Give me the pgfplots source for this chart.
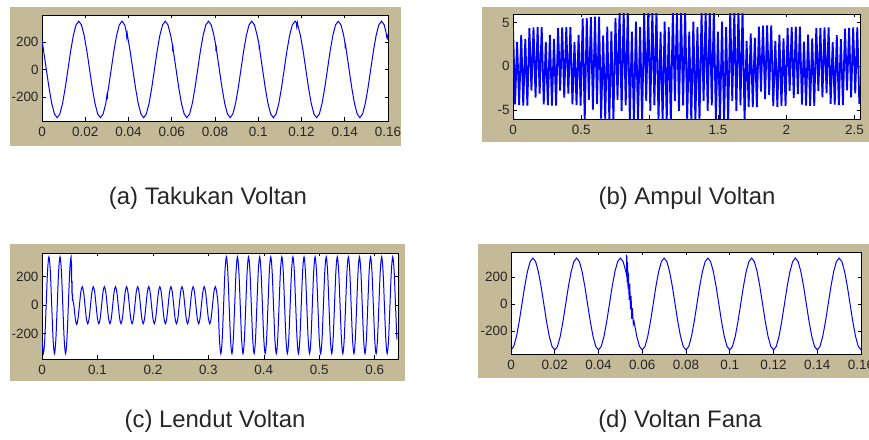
\documentclass[border=0pt]{standalone}
\usepackage{fontspec}
\setmainfont{Liberation Sans}
\usepackage{pgfplots}
\pgfplotsset{compat=1.18}
\definecolor{mtan}{RGB}{197,186,152}
\definecolor{mblue}{RGB}{0,0,255}
\pgfplotsset{mat/.style={
  scale only axis,
  no markers,
  axis background/.style={fill=white},
  tick align=inside,
  major tick length=3.5bp,
  tick style={black,line width=0.6bp},
  axis line style={black,line width=0.7bp},
  ticklabel style={font=\fontsize{13.5}{14}\selectfont, text=black!85},
  xticklabel style={yshift=-2.5bp},
  xtick pos=both, ytick pos=both,
}}
\begin{document}
\begin{tikzpicture}[x=1bp,y=1bp]
\path[use as bounding box] (0,0) rectangle (869,440);
\fill[mtan] (10,294) rectangle (401,433);
\fill[mtan] (482,298) rectangle (869,433);
\fill[mtan] (10,59) rectangle (405,196);
\fill[mtan] (478,62) rectangle (869,196);

% (a)
\begin{axis}[mat, at={(42bp,319bp)}, anchor=south west, width=346bp, height=106bp,
  xmin=0, xmax=0.16, ymin=-374, ymax=395,
  xtick={0,0.02,0.04,0.06,0.08,0.1,0.12,0.14,0.16},
  xticklabels={0,0.02,0.04,0.06,0.08,0.1,0.12,0.14,0.16},
  ytick={-200,0,200}, yticklabels={-200,0,200}]
\addplot[mblue, line width=1bp] coordinates {
(0,215) (0.00075,134) (0.002,0) (0.00325,-134) (0.0045,-247) (0.00575,-323)
(0.007,-350) (0.00825,-323) (0.0095,-247) (0.01075,-134) (0.012,0) (0.01325,134) (0.0145,247) (0.01575,323) (0.017,350) (0.01825,323) (0.0195,247) (0.02075,134) (0.022,0) (0.02325,-134) (0.0245,-247) (0.02575,-323)
(0.027,-350) (0.02825,-323) (0.0295,-247) (0.0300,-190) (0.0302,-215) (0.0304,-165) (0.03075,-134) (0.032,0) (0.03325,134) (0.0345,247) (0.03575,323) (0.037,350) (0.03825,323) (0.0390,270) (0.0392,235) (0.0394,260) (0.0395,247) (0.04075,134) (0.042,0) (0.04325,-134) (0.0445,-247) (0.04575,-323)
(0.047,-350) (0.04825,-323) (0.0495,-247) (0.05075,-134) (0.052,0) (0.05325,134) (0.0545,247) (0.05575,323) (0.057,350) (0.05825,323) (0.0595,247) (0.0603,180) (0.0604,150) (0.0606,160) (0.06075,134) (0.062,0) (0.06325,-134) (0.0645,-247) (0.06575,-323)
(0.067,-350) (0.06825,-323) (0.0695,-247) (0.07075,-134) (0.072,0) (0.07325,134) (0.0745,247) (0.07575,323) (0.077,350) (0.07825,323) (0.0795,247) (0.0803,180) (0.0804,150) (0.0806,160) (0.08075,134) (0.082,0) (0.08325,-134) (0.0845,-247) (0.08575,-323)
(0.087,-350) (0.08825,-323) (0.0895,-247) (0.09075,-134) (0.092,0) (0.09325,134) (0.0945,247) (0.09575,323) (0.097,350) (0.09825,323) (0.0995,247) (0.1003,185) (0.1004,160) (0.1006,165) (0.10075,134) (0.102,0) (0.10325,-134) (0.1045,-247) (0.10575,-323)
(0.107,-350) (0.10825,-323) (0.1095,-247) (0.11075,-134) (0.112,0) (0.11325,134) (0.1145,247) (0.11575,323) (0.117,350) (0.1176,340) (0.1178,310) (0.1181,338) (0.11825,323) (0.1195,247) (0.12075,134) (0.122,0) (0.12325,-134) (0.1245,-247) (0.12575,-323)
(0.127,-350) (0.12825,-323) (0.1295,-247) (0.13075,-134) (0.132,0) (0.13325,134) (0.1345,247) (0.13575,323) (0.137,350) (0.13825,323) (0.1395,247) (0.1401,190) (0.1402,165) (0.1404,175) (0.14075,134) (0.142,0) (0.14325,-134) (0.1445,-247) (0.14575,-323)
(0.147,-350) (0.14825,-323) (0.1495,-247) (0.15075,-134) (0.152,0) (0.15325,134) (0.1545,247) (0.15575,323) (0.157,350) (0.15825,323) (0.1592,260) (0.1594,235) (0.1597,245) (0.16,215)
};
\end{axis}

% (b)
\begin{axis}[mat, at={(513bp,321bp)}, anchor=south west, width=347bp, height=105bp,
  xmin=0, xmax=2.54, ymin=-6.05, ymax=6,
  xtick={0,0.5,1,1.5,2,2.5}, xticklabels={0,0.5,1,1.5,2,2.5},
  ytick={-5,0,5}, yticklabels={-5,0,5}]
\addplot[mblue, line width=1.8bp, line join=bevel] coordinates {
(0,4.50) (0.015,-4.37) (0.03,2.79) (0.045,-4.46) (0.06,3.60) (0.075,-4.50) (0.09,3.15) (0.105,-4.50) (0.12,4.37) (0.135,-2.79) (0.15,4.46) (0.165,-3.60) (0.18,4.50) (0.195,-3.15)
(0.21,4.50) (0.225,-4.37) (0.24,2.79) (0.255,-4.46) (0.27,3.60) (0.285,-4.50) (0.30,3.15) (0.315,-4.50) (0.33,4.37) (0.345,-2.79) (0.36,4.46) (0.375,-3.60) (0.39,4.50) (0.405,-3.15)
(0.42,4.50) (0.435,-4.37) (0.45,2.79) (0.465,-4.46) (0.48,3.60) (0.495,-4.50)
(0.51,5.50) (0.525,-6.20) (0.54,5.53) (0.555,-3.84) (0.57,5.64) (0.585,-4.96) (0.60,5.70) (0.615,-4.34)
(0.63,5.70) (0.645,-6.01) (0.66,3.53) (0.675,-6.14) (0.69,4.56) (0.705,-6.20) (0.72,3.99) (0.735,-6.20) (0.75,5.53) (0.765,-3.84)
(0.78,6.34) (0.795,-5.12) (0.81,6.40) (0.825,-4.48)
(0.84,6.40) (0.855,-6.21) (0.87,3.97) (0.885,-6.34) (0.90,5.12) (0.915,-6.40) (0.93,4.48) (0.945,-6.40) (0.96,6.21) (0.975,-3.97) (0.99,6.34) (1.005,-5.12) (1.02,6.40) (1.035,-4.48)
(1.05,6.40) (1.065,-6.21) (1.08,3.97) (1.095,-6.34) (1.11,5.12) (1.125,-6.40) (1.14,4.48) (1.155,-6.40) (1.17,6.21) (1.185,-3.97) (1.20,6.34) (1.215,-5.12) (1.23,6.40) (1.245,-4.48)
(1.26,6.40) (1.275,-6.21) (1.29,3.97) (1.305,-6.34) (1.32,5.12) (1.335,-6.40) (1.35,4.48) (1.365,-6.40) (1.38,6.21) (1.395,-3.97) (1.41,6.34) (1.425,-5.12) (1.44,6.40) (1.455,-4.48)
(1.47,6.40) (1.485,-6.21) (1.50,3.97) (1.515,-6.34) (1.53,5.12) (1.545,-6.40) (1.56,4.48) (1.575,-6.40) (1.59,6.21) (1.605,-3.97) (1.62,6.34) (1.635,-5.12) (1.65,6.40) (1.665,-4.48)
(1.68,6.40) (1.695,-6.21)
(1.71,2.91) (1.725,-4.65) (1.74,3.76) (1.755,-4.70) (1.77,3.29) (1.785,-4.70) (1.80,4.56) (1.815,-2.91) (1.83,4.65) (1.845,-3.76) (1.86,4.70) (1.875,-3.29)
(1.89,4.70) (1.905,-4.56) (1.92,2.91) (1.935,-4.65)
(1.95,3.64) (1.965,-4.55) (1.98,3.19) (1.995,-4.55) (2.01,4.41) (2.025,-2.82) (2.04,4.50) (2.055,-3.64) (2.07,4.55) (2.085,-3.19)
(2.10,4.55) (2.115,-4.41) (2.13,2.82) (2.145,-4.50) (2.16,3.64) (2.175,-4.55) (2.19,3.19) (2.205,-4.55) (2.22,4.41) (2.235,-2.82)
(2.25,4.41) (2.265,-3.56) (2.28,4.45) (2.295,-3.12)
(2.31,4.45) (2.325,-4.32) (2.34,2.76) (2.355,-4.41) (2.37,3.56) (2.385,-4.45) (2.40,3.12) (2.415,-4.45) (2.43,4.32) (2.445,-2.76) (2.46,4.41) (2.475,-3.56) (2.49,4.45) (2.505,-3.12)
(2.52,4.45) (2.535,-4.32)
};
\end{axis}

% (c)
\begin{axis}[mat, at={(42bp,81bp)}, anchor=south west, width=356bp, height=106bp,
  xmin=0, xmax=0.642, ymin=-378, ymax=367,
  xtick={0,0.1,0.2,0.3,0.4,0.5,0.6}, xticklabels={0,0.1,0.2,0.3,0.4,0.5,0.6},
  ytick={-200,0,200}, yticklabels={-200,0,200}]
\addplot[mblue, line width=1bp, smooth] coordinates {
(0,-240) (0.0025,-340) (0.005,-240) (0.0075,0) (0.01,240) (0.0125,340) (0.015,240) (0.0175,0)
(0.02,-240) (0.0225,-340) (0.025,-240) (0.0275,0) (0.03,240) (0.0325,340) (0.035,240) (0.0375,0)
(0.04,-240) (0.0425,-340) (0.045,-240) (0.0475,0) (0.05,240) (0.0525,340) (0.053,190) (0.0534,280) (0.0538,90) (0.0542,170) (0.0547,30) (0.0551,80) (0.0555,40) (0.0575,0)
(0.06,-92) (0.0625,-135) (0.065,-92) (0.0675,0) (0.07,92) (0.0725,130) (0.075,92) (0.0775,0)
(0.08,-92) (0.0825,-130) (0.085,-92) (0.0875,0) (0.09,92) (0.0925,130) (0.095,92) (0.0975,0)
(0.1,-92) (0.1025,-130) (0.105,-92) (0.1075,0) (0.11,92) (0.1125,130) (0.115,92) (0.1175,0)
(0.12,-92) (0.1225,-130) (0.125,-92) (0.1275,0) (0.13,92) (0.1325,130) (0.135,92) (0.1375,0)
(0.14,-92) (0.1425,-130) (0.145,-92) (0.1475,0) (0.15,92) (0.1525,130) (0.155,92) (0.1575,0)
(0.16,-92) (0.1625,-130) (0.165,-92) (0.1675,0) (0.17,92) (0.1725,130) (0.175,92) (0.1775,0)
(0.18,-92) (0.1825,-130) (0.185,-92) (0.1875,0) (0.19,92) (0.1925,130) (0.195,92) (0.1975,0)
(0.2,-92) (0.2025,-130) (0.205,-92) (0.2075,0) (0.21,92) (0.2125,130) (0.215,92) (0.2175,0)
(0.22,-92) (0.2225,-130) (0.225,-92) (0.2275,0) (0.23,92) (0.2325,130) (0.235,92) (0.2375,0)
(0.24,-92) (0.2425,-130) (0.245,-92) (0.2475,0) (0.25,92) (0.2525,130) (0.255,92) (0.2575,0)
(0.26,-92) (0.2625,-130) (0.265,-92) (0.2675,0) (0.27,92) (0.2725,130) (0.275,92) (0.2775,0)
(0.28,-92) (0.2825,-130) (0.285,-92) (0.2875,0) (0.29,92) (0.2925,130) (0.295,92) (0.2975,0)
(0.3,-92) (0.3025,-130) (0.305,-92) (0.3075,0) (0.31,92) (0.3125,130) (0.315,92) (0.3175,0)
(0.32,-240) (0.3225,-340) (0.325,-240) (0.3275,0) (0.33,240) (0.3325,340) (0.335,240) (0.3375,0)
(0.34,-240) (0.3425,-340) (0.345,-240) (0.3475,0) (0.35,240) (0.3525,340) (0.355,240) (0.3575,0)
(0.36,-240) (0.3625,-340) (0.365,-240) (0.3675,0) (0.37,240) (0.3725,340) (0.375,240) (0.3775,0)
(0.38,-240) (0.3825,-340) (0.385,-240) (0.3875,0) (0.39,240) (0.3925,340) (0.395,240) (0.3975,0)
(0.40,-240) (0.4025,-340) (0.405,-240) (0.4075,0) (0.41,240) (0.4125,340) (0.415,240) (0.4175,0)
(0.42,-240) (0.4225,-340) (0.425,-240) (0.4275,0) (0.43,240) (0.4325,340) (0.435,240) (0.4375,0)
(0.44,-240) (0.4425,-340) (0.445,-240) (0.4475,0) (0.45,240) (0.4525,340) (0.455,240) (0.4575,0)
(0.46,-240) (0.4625,-340) (0.465,-240) (0.4675,0) (0.47,240) (0.4725,340) (0.475,240) (0.4775,0)
(0.48,-240) (0.4825,-340) (0.485,-240) (0.4875,0) (0.49,240) (0.4925,340) (0.495,240) (0.4975,0)
(0.50,-240) (0.5025,-340) (0.505,-240) (0.5075,0) (0.51,240) (0.5125,340) (0.515,240) (0.5175,0)
(0.52,-240) (0.5225,-340) (0.525,-240) (0.5275,0) (0.53,240) (0.5325,340) (0.535,240) (0.5375,0)
(0.54,-240) (0.5425,-340) (0.545,-240) (0.5475,0) (0.55,240) (0.5525,340) (0.555,240) (0.5575,0)
(0.56,-240) (0.5625,-340) (0.565,-240) (0.5675,0) (0.57,240) (0.5725,340) (0.575,240) (0.5775,0)
(0.58,-240) (0.5825,-340) (0.585,-240) (0.5875,0) (0.59,240) (0.5925,340) (0.595,240) (0.5975,0)
(0.60,-240) (0.6025,-340) (0.605,-240) (0.6075,0) (0.61,240) (0.6125,340) (0.615,240) (0.6175,0)
(0.62,-240) (0.6225,-340) (0.625,-240) (0.6275,0) (0.63,240) (0.6325,340) (0.635,240) (0.6375,0)
(0.64,-240)
};
\end{axis}

% (d)
\begin{axis}[mat, at={(511bp,86bp)}, anchor=south west, width=350bp, height=102bp,
  xmin=0, xmax=0.16, ymin=-370, ymax=385,
  xtick={0,0.02,0.04,0.06,0.08,0.1,0.12,0.14,0.16},
  xticklabels={0,0.02,0.04,0.06,0.08,0.1,0.12,0.14,0.16},
  ytick={-200,0,200}, yticklabels={-200,0,200}]
\addplot[mblue, line width=1bp] coordinates {
(0,-340) (0.00125,-314) (0.0025,-240) (0.00375,-130) (0.005,0) (0.00625,130) (0.0075,240) (0.00875,314) (0.01,340) (0.01125,314) (0.0125,240) (0.01375,130) (0.015,0) (0.01625,-130) (0.0175,-240) (0.01875,-314)
(0.02,-340) (0.02125,-314) (0.0225,-240) (0.02375,-130) (0.025,0) (0.02625,130) (0.0275,240) (0.02875,314) (0.03,340) (0.03125,314) (0.0325,240) (0.03375,130) (0.035,0) (0.03625,-130) (0.0375,-240) (0.03875,-314)
(0.04,-340) (0.04125,-314) (0.0425,-240) (0.04375,-130) (0.045,0) (0.04625,130) (0.0475,240) (0.04875,314) (0.05,340) (0.05125,314) (0.0525,240) (0.0528,215)
(0.0529,365) (0.0531,160) (0.0533,310) (0.0535,110) (0.0537,230) (0.0540,30) (0.0543,150) (0.0546,-40) (0.0549,60) (0.0552,-110) (0.0555,-30) (0.0559,-150)
(0.05625,-130) (0.0575,-240) (0.05875,-314)
(0.06,-340) (0.06125,-314) (0.0625,-240) (0.06375,-130) (0.065,0) (0.06625,130) (0.0675,240) (0.06875,314) (0.07,340) (0.07125,314) (0.0725,240) (0.07375,130) (0.075,0) (0.07625,-130) (0.0775,-240) (0.07875,-314)
(0.08,-340) (0.08125,-314) (0.0825,-240) (0.08375,-130) (0.085,0) (0.08625,130) (0.0875,240) (0.08875,314) (0.09,340) (0.09125,314) (0.0925,240) (0.09375,130) (0.095,0) (0.09625,-130) (0.0975,-240) (0.09875,-314)
(0.10,-340) (0.10125,-314) (0.1025,-240) (0.10375,-130) (0.105,0) (0.10625,130) (0.1075,240) (0.10875,314) (0.11,340) (0.11125,314) (0.1125,240) (0.11375,130) (0.115,0) (0.11625,-130) (0.1175,-240) (0.11875,-314)
(0.12,-340) (0.12125,-314) (0.1225,-240) (0.12375,-130) (0.125,0) (0.12625,130) (0.1275,240) (0.12875,314) (0.13,340) (0.13125,314) (0.1325,240) (0.13375,130) (0.135,0) (0.13625,-130) (0.1375,-240) (0.13875,-314)
(0.14,-340) (0.14125,-314) (0.1425,-240) (0.14375,-130) (0.145,0) (0.14625,130) (0.1475,240) (0.14875,314) (0.15,340) (0.15125,314) (0.1525,240) (0.15375,130) (0.155,0) (0.15625,-130) (0.1575,-240) (0.15875,-314)
(0.16,-340)
};
\end{axis}

\begin{scope}[every node/.style={font=\fontsize{24}{28}\selectfont, text=black!85, anchor=base, inner sep=0pt}]
\node at (208,235) {(a) Takukan Voltan};
\node at (687,235) {(b) Ampul Voltan};
\node at (215,12) {(c) Lendut Voltan};
\node at (680,12) {(d) Voltan Fana};
\end{scope}
\end{tikzpicture}
\end{document}
